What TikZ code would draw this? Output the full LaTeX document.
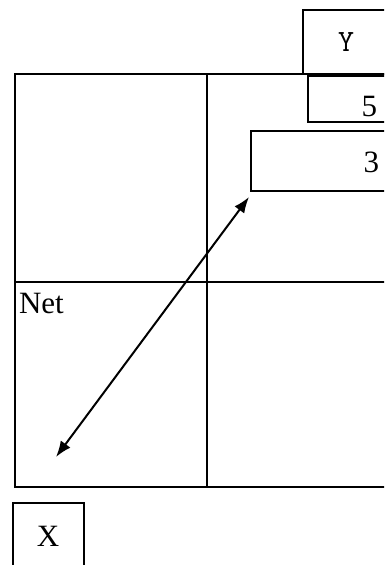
\documentclass[tikz,border=0pt]{standalone}
\usepackage{fontspec}
\setmainfont{Liberation Serif}
\usetikzlibrary{arrows.meta}

\begin{document}
\begin{tikzpicture}[x=0.5pt, y=-0.5pt, line width=1pt, font=\fontsize{15.5}{18}\selectfont]
\clip (0,0) rectangle (384,565);
% quadrant frame
\draw (15,74) rectangle (400,487);
\draw (207,74) -- (207,487);
\draw (15,282) -- (400,282);
\node[anchor=north west, inner sep=0pt] (net) at (18,292) {Net};

% value boxes
\draw[fill=white, line width=1.2pt] (303,10) rectangle (400,74);
\node (ylab) at (346,42) {\ttfamily Y};
\draw[fill=white, line width=1.2pt] (308,76) rectangle (400,122);
\node[anchor=east, inner sep=0pt] (five) at (378,107) {5};
\draw[fill=white] (251,131) rectangle (400,191);
\node[anchor=east, inner sep=0pt] (three) at (380,162) {3};

\draw (13,503) rectangle (84,580);
\node (xlab) at (48,536) {X};

% diagonal
\coordinate (lo) at (56,457);
\coordinate (hi) at (249,197);
\draw[{Latex[length=8pt,width=6pt]}-{Latex[length=8pt,width=6pt]}, line width=1pt] (lo) -- (hi);
\end{tikzpicture}
\end{document}
